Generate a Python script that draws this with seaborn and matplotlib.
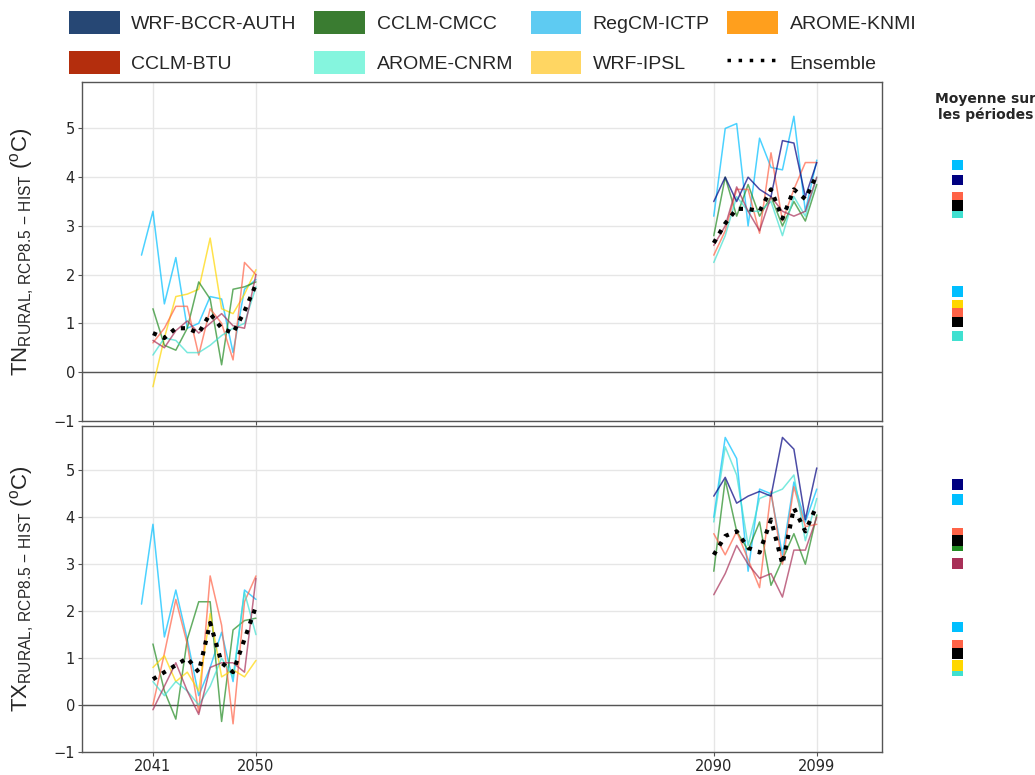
import numpy as np
import pandas as pd
import matplotlib.pyplot as plt
import seaborn as sns
from matplotlib.patches import Patch
from matplotlib.lines import Line2D

# periods
years_mid = list(range(2041, 2051))
years_end = list(range(2090, 2100))
years_regcm_mid = list(range(2040, 2051))   # RegCM starts one year earlier

# legend order (filled column by column)
models = ['WRF-BCCR-AUTH', 'CCLM-BTU', 'CCLM-CMCC', 'AROME-CNRM',
          'RegCM-ICTP', 'WRF-IPSL', 'AROME-KNMI']
legend_colors = ['#1a3d6d', '#b02300', '#2f7526', '#7ff5dd',
                 '#55c9f2', '#ffd45a', '#ff9a10']

# colours used for the curves and the period means
model_colors = {
    'WRF-BCCR-AUTH': '#000080',
    'CCLM-BTU': '#a83058',
    'CCLM-CMCC': '#228b22',
    'AROME-CNRM': '#40e0d0',
    'RegCM-ICTP': '#00bfff',
    'WRF-IPSL': '#ffd700',
    'AROME-KNMI': '#ff6347',
    'Ensemble': '#000000',
}

# TN, 2041-2050
tn_mid = {
    'RegCM-ICTP': [2.4, 3.3, 1.4, 2.35, 0.9, 1.0, 1.55, 1.5, 0.4, 1.7, 1.9],
    'WRF-IPSL': [-0.3, 0.7, 1.55, 1.6, 1.7, 2.75, 1.3, 1.2, 1.6, 2.1],
    'CCLM-CMCC': [1.3, 0.55, 0.45, 0.9, 1.85, 1.5, 0.15, 1.7, 1.75, 1.85],
    'AROME-KNMI': [0.6, 0.9, 1.35, 1.35, 0.35, 1.3, 1.0, 0.25, 2.25, 2.0],
    'AROME-CNRM': [0.35, 0.7, 0.65, 0.4, 0.4, 0.55, 0.75, 0.9, 1.0, 1.75],
    'CCLM-BTU': [0.65, 0.5, 0.85, 1.05, 0.8, 1.0, 1.2, 0.95, 0.9, 2.0],
}
tn_mid_ens = [0.8, 0.7, 0.9, 0.9, 0.8, 1.2, 0.9, 0.8, 1.25, 1.8]

# TN, 2090-2099
tn_end = {
    'RegCM-ICTP': [3.2, 5.0, 5.1, 3.0, 4.8, 4.2, 4.15, 5.25, 3.3, 4.35],
    'WRF-BCCR-AUTH': [3.5, 4.0, 3.5, 4.0, 3.75, 3.6, 4.75, 4.7, 3.6, 4.3],
    'CCLM-CMCC': [2.8, 4.0, 3.2, 3.85, 3.2, 3.6, 3.0, 3.5, 3.1, 3.85],
    'AROME-KNMI': [2.4, 2.9, 3.75, 3.75, 2.85, 4.5, 3.1, 3.75, 4.3, 4.3],
    'AROME-CNRM': [2.25, 2.8, 3.6, 3.3, 3.3, 3.5, 2.8, 3.6, 3.2, 4.0],
    'CCLM-BTU': [2.6, 3.0, 3.8, 3.3, 2.9, 3.6, 3.3, 3.2, 3.3, 4.0],
}
tn_end_ens = [2.65, 3.05, 3.35, 3.35, 3.3, 3.75, 3.15, 3.75, 3.55, 4.05]

# TX, 2041-2050
tx_mid = {
    'RegCM-ICTP': [2.15, 3.85, 1.45, 2.45, 1.4, 0.2, 0.8, 1.55, 0.5, 2.45, 2.25],
    'CCLM-CMCC': [1.3, 0.3, -0.3, 1.4, 2.2, 2.2, -0.35, 1.6, 1.8, 1.85],
    'AROME-KNMI': [0.0, 1.1, 2.25, 1.3, -0.15, 2.75, 1.7, -0.4, 2.2, 2.75],
    'WRF-IPSL': [0.8, 1.05, 0.5, 0.7, 0.3, 1.95, 0.6, 0.75, 0.6, 0.95],
    'AROME-CNRM': [0.5, 0.2, 0.5, 0.3, 0.0, 0.4, 1.0, 0.6, 2.4, 1.5],
    'CCLM-BTU': [-0.1, 0.4, 0.9, 0.3, -0.2, 0.8, 0.9, 0.9, 0.7, 2.7],
}
tx_mid_ens = [0.55, 0.7, 0.85, 1.0, 0.7, 1.75, 0.9, 0.7, 1.4, 2.1]

# TX, 2090-2099
tx_end = {
    'RegCM-ICTP': [4.0, 5.7, 5.25, 2.85, 4.6, 4.5, 3.2, 4.75, 3.9, 4.6],
    'WRF-BCCR-AUTH': [4.45, 4.85, 4.3, 4.45, 4.55, 4.45, 5.7, 5.45, 3.95, 5.05],
    'CCLM-CMCC': [2.85, 4.8, 3.7, 3.3, 3.9, 2.55, 3.1, 3.65, 3.0, 4.05],
    'AROME-KNMI': [3.65, 3.2, 3.7, 3.1, 2.5, 4.55, 3.0, 4.65, 3.8, 3.85],
    'CCLM-BTU': [2.35, 2.8, 3.4, 3.0, 2.7, 2.8, 2.3, 3.3, 3.3, 4.0],
    'AROME-CNRM': [3.9, 5.5, 4.9, 3.4, 4.4, 4.5, 4.6, 4.9, 3.5, 4.4],
}
tx_end_ens = [3.2, 3.6, 3.7, 3.35, 3.25, 3.95, 3.0, 4.2, 3.7, 4.25]

# period means shown in the right-hand column
tn_mean_models = ['RegCM-ICTP', 'WRF-IPSL', 'AROME-KNMI', 'AROME-CNRM', 'Ensemble',
                  'RegCM-ICTP', 'WRF-BCCR-AUTH', 'AROME-KNMI', 'AROME-CNRM', 'Ensemble']
tn_mean_values = [1.65, 1.36, 1.2, 0.74, 1.03,
                  4.25, 3.94, 3.59, 3.28, 3.42]
tx_mean_models = ['RegCM-ICTP', 'AROME-KNMI', 'AROME-CNRM', 'WRF-IPSL', 'Ensemble',
                  'WRF-BCCR-AUTH', 'RegCM-ICTP', 'AROME-KNMI', 'CCLM-CMCC', 'CCLM-BTU', 'Ensemble']
tx_mean_values = [1.66, 1.28, 0.74, 0.85, 1.1,
                  4.7, 4.38, 3.66, 3.40, 3.02, 3.51]


def to_long(mid, end):
    rows = []
    for period, block in (('mid', mid), ('end', end)):
        for model, vals in block.items():
            if period == 'mid':
                yrs = years_regcm_mid if model == 'RegCM-ICTP' else years_mid
            else:
                yrs = years_end
            for y, v in zip(yrs, vals):
                rows.append({'year': y, 'value': v, 'model': model, 'period': period})
    return pd.DataFrame(rows)


def ens_long(mid, end):
    return pd.DataFrame({'year': years_mid + years_end,
                         'value': mid + end,
                         'period': ['mid'] * len(mid) + ['end'] * len(end)})


sns.set_style('ticks')
plt.rcParams['font.family'] = ['DejaVu Sans']
plt.rcParams['mathtext.fontset'] = 'custom'
plt.rcParams['mathtext.rm'] = 'Liberation Sans'
plt.rcParams['mathtext.it'] = 'Liberation Sans:italic'
plt.rcParams['mathtext.bf'] = 'Liberation Sans:bold'

fig = plt.figure(figsize=(10.35, 7.75), dpi=100)
ax_tn = fig.add_axes([0.0792, 0.457, 0.773, 0.437])
ax_tx = fig.add_axes([0.0792, 0.0297, 0.773, 0.421], sharex=ax_tn)

panels = [
    (ax_tn, tn_mid, tn_end, tn_mid_ens, tn_end_ens, tn_mean_models, tn_mean_values,
     r'$\mathrm{TN}_{\mathrm{RURAL,\,RCP8.5\,-\,HIST}}\ (^{\mathrm{o}}\mathrm{C})$', 0.457, 0.437),
    (ax_tx, tx_mid, tx_end, tx_mid_ens, tx_end_ens, tx_mean_models, tx_mean_values,
     r'$\mathrm{TX}_{\mathrm{RURAL,\,RCP8.5\,-\,HIST}}\ (^{\mathrm{o}}\mathrm{C})$', 0.0297, 0.421),
]

for ax, mid, end, ens_mid, ens_end, m_models, m_vals, label, bot, hgt in panels:
    df = to_long(mid, end)
    sns.lineplot(data=df, x='year', y='value', hue='model', units='period',
                 estimator=None, palette=model_colors, linewidth=1.1, alpha=0.7,
                 legend=False, ax=ax)
    sns.lineplot(data=ens_long(ens_mid, ens_end), x='year', y='value',
                 units='period', estimator=None, color='black', linewidth=3,
                 linestyle=(0, (1, 1.6)), ax=ax)
    ax.axhline(0, color='#555555', lw=1, zorder=1)

    ax.set_ylim(-1, 5.95)
    ax.set_yticks([-1, 0, 1, 2, 3, 4, 5])
    ax.set_xlim(2034.8, 2104.7)
    ax.set_xticks([2041, 2050, 2090, 2099])
    ax.grid(True, color='#e6e6e6', lw=1)
    ax.set_axisbelow(True)
    ax.set_xlabel('')
    ax.set_ylabel(label, fontsize=16)
    ax.yaxis.set_label_coords(-0.058, 0.5)
    ax.tick_params(labelsize=10.5, color='#555555', length=3, pad=2)
    for s in ax.spines.values():
        s.set_color('#555555')
        s.set_linewidth(1)

    # column of period means
    side = fig.add_axes([0.905, bot, 0.04, hgt], sharey=ax)
    mdf = pd.DataFrame({'model': m_models, 'value': m_vals, 'x': np.zeros(len(m_vals))})
    sns.scatterplot(data=mdf, x='x', y='value', hue='model', palette=model_colors,
                    marker='s', s=60, linewidth=0, legend=False, ax=side)
    side.set_xlim(-1, 1)
    side.axis('off')

ax_tn.tick_params(labelbottom=False)

handles = [Patch(facecolor=c, edgecolor='none', alpha=0.95) for c in legend_colors]
handles.append(Line2D([], [], color='black', lw=2.5, linestyle=(0, (1, 2.2))))
labels = models + ['Ensemble']
fig.legend(handles, labels, loc='center', bbox_to_anchor=(0.476, 0.945), ncol=4,
           frameon=False, prop={'family': 'Liberation Sans', 'size': 14},
           handlelength=2.6, handleheight=1.45, columnspacing=0.9,
           labelspacing=0.9, handletextpad=0.6)

fig.text(0.952, 0.862, 'Moyenne sur\nles périodes', ha='center', va='center',
         fontsize=10, fontweight='bold', linespacing=1.1)

fig.savefig('out.png', dpi=100)
